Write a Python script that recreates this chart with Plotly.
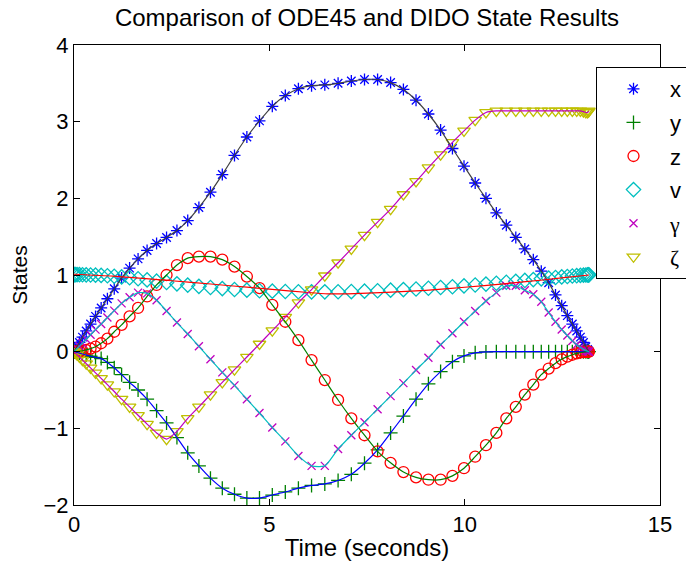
import plotly.graph_objects as go

# DIDO node times (seconds)
t_nodes = [0, 0.009, 0.035, 0.078, 0.139, 0.217, 0.312, 0.424, 0.551, 0.695,
           0.855, 1.030, 1.219, 1.423, 1.640, 1.871, 2.114, 2.369, 2.635, 2.911,
           3.197, 3.493, 3.796, 4.108, 4.425, 4.748, 5.076, 5.409, 5.744, 6.081,
           6.420, 6.760, 7.099, 7.436, 7.771, 8.104, 8.432, 8.755, 9.072, 9.384,
           9.687, 9.983, 10.269, 10.545, 10.811, 11.066, 11.309, 11.540, 11.757, 11.961,
           12.150, 12.325, 12.484, 12.628, 12.756, 12.868, 12.963, 13.041, 13.102, 13.145,
           13.171, 13.180]

x_vals = [0, 0.008, 0.03, 0.068, 0.12, 0.19, 0.27, 0.36, 0.46, 0.57,
          0.69, 0.82, 0.96, 1.09, 1.21, 1.32, 1.41, 1.49, 1.58, 1.71,
          1.88, 2.08, 2.31, 2.56, 2.80, 3.01, 3.20, 3.34, 3.43, 3.47,
          3.48, 3.50, 3.53, 3.55, 3.55, 3.51, 3.42, 3.28, 3.10, 2.89,
          2.65, 2.42, 2.20, 2.00, 1.81, 1.65, 1.49, 1.34, 1.20, 1.05,
          0.90, 0.74, 0.60, 0.47, 0.36, 0.27, 0.19, 0.12, 0.065, 0.03,
          0.01, 0]

y_vals = [0, -0.001, -0.004, -0.01, -0.018, -0.03, -0.045, -0.06, -0.075, -0.09,
          -0.14, -0.21, -0.30, -0.40, -0.50, -0.62, -0.77, -0.93, -1.12, -1.32,
          -1.49, -1.65, -1.78, -1.86, -1.91, -1.91, -1.87, -1.83, -1.78, -1.745,
          -1.725, -1.68, -1.60, -1.455, -1.28, -1.06, -0.84, -0.62, -0.42, -0.26,
          -0.13, -0.055, -0.015, -0.003, 0, 0, 0, 0, 0, 0,
          0, 0, 0, 0, 0, 0, 0, 0, 0, 0,
          0, 0]

z_vals = [0, 0, 0.001, 0.002, 0.005, 0.012, 0.022, 0.04, 0.065, 0.11,
          0.17, 0.26, 0.35, 0.46, 0.57, 0.72, 0.87, 1.00, 1.13, 1.22,
          1.24, 1.24, 1.20, 1.11, 0.98, 0.83, 0.61, 0.39, 0.15, -0.11,
          -0.37, -0.63, -0.87, -1.09, -1.30, -1.45, -1.57, -1.64, -1.67, -1.67,
          -1.62, -1.52, -1.37, -1.22, -1.06, -0.87, -0.72, -0.56, -0.43, -0.30,
          -0.22, -0.15, -0.10, -0.065, -0.04, -0.022, -0.011, -0.005, -0.002, -0.001,
          0, 0]

v_vals = [1.005, 1.005, 1.005, 1.005, 1.004, 1.003, 1.002, 1.0, 0.998, 0.995,
          0.99, 0.984, 0.975, 0.964, 0.951, 0.936, 0.92, 0.903, 0.885, 0.868,
          0.852, 0.837, 0.823, 0.811, 0.802, 0.795, 0.789, 0.785, 0.782, 0.78,
          0.78, 0.781, 0.784, 0.789, 0.795, 0.802, 0.81, 0.818, 0.827, 0.837,
          0.847, 0.858, 0.869, 0.881, 0.893, 0.905, 0.917, 0.929, 0.94, 0.95,
          0.959, 0.968, 0.975, 0.981, 0.987, 0.991, 0.995, 0.998, 1.0, 1.001,
          1.002, 1.002]

gam_vals = [0, 0.005, 0.018, 0.04, 0.072, 0.113, 0.162, 0.22, 0.287, 0.36,
            0.445, 0.535, 0.63, 0.71, 0.77, 0.76, 0.67, 0.53, 0.38, 0.23,
            0.07, -0.10, -0.27, -0.44, -0.62, -0.80, -0.99, -1.17, -1.36, -1.49,
            -1.49, -1.27, -1.09, -0.92, -0.75, -0.58, -0.41, -0.24, -0.08, 0.09,
            0.24, 0.39, 0.53, 0.66, 0.77, 0.86, 0.86, 0.80, 0.75, 0.65,
            0.51, 0.39, 0.29, 0.21, 0.14, 0.09, 0.055, 0.03, 0.013, 0.005,
            0.001, 0]

zeta_vals = [0, -0.005, -0.018, -0.039, -0.07, -0.11, -0.156, -0.212, -0.276, -0.348,
             -0.43, -0.52, -0.62, -0.72, -0.83, -0.945, -1.06, -1.14, -1.04, -0.87,
             -0.72, -0.56, -0.40, -0.235, -0.07, 0.10, 0.275, 0.45, 0.64, 0.81,
             0.99, 1.16, 1.34, 1.52, 1.69, 1.86, 2.05, 2.22, 2.40, 2.57,
             2.73, 2.88, 3.02, 3.12, 3.14, 3.14, 3.14, 3.14, 3.14, 3.14,
             3.14, 3.14, 3.14, 3.14, 3.14, 3.14, 3.14, 3.13, 3.12, 3.12,
             3.13, 3.14]

# ODE45 speed history (slightly different from DIDO nodes)
t_ode_v = [0, 1, 2, 3, 4, 5, 6, 6.5, 7, 8, 9, 10, 11, 12, 13, 13.18]
v_ode = [1.01, 0.985, 0.945, 0.905, 0.86, 0.815, 0.772, 0.755, 0.755, 0.773,
         0.80, 0.84, 0.885, 0.935, 0.99, 1.0]

serif = "Liberation Serif, Times New Roman, serif"
legend_names = ["x", "y", "z", "v",
                f'<span style="font-family:{serif}">γ</span>',
                f'<span style="font-family:{serif}">ζ</span>']

series = [x_vals, y_vals, z_vals, v_vals, gam_vals, zeta_vals]
marker_symbols = ["asterisk-open", "cross-thin-open", "circle-open",
                  "diamond-open", "x-thin-open", "triangle-down-open"]
marker_colors = ["#0000ff", "#008000", "#ff0000", "#00bfbf", "#bf00bf", "#bfbf00"]
marker_sizes = [10, 10, 11, 11, 8, 11]
line_colors = ["#404040", "#0000ff", "#008000", "#ff0000", "#00bfbf", "#bf00bf"]

fig = go.Figure()

for i, vals in enumerate(series):
    fig.add_trace(go.Scatter(
        x=t_nodes, y=vals, mode="markers", name=legend_names[i],
        legendgroup=f"g{i}",
        marker=dict(symbol=marker_symbols[i], size=marker_sizes[i],
                    color=marker_colors[i],
                    line=dict(color=marker_colors[i], width=1.3)),
        hoverinfo="skip"))

for i, vals in enumerate(series):
    if i == 3:
        xs, ys = t_ode_v, v_ode
    else:
        xs, ys = t_nodes, vals
    fig.add_trace(go.Scatter(
        x=xs, y=ys, mode="lines", showlegend=False,
        line=dict(color=line_colors[i], width=1.2, shape="spline", smoothing=0.6),
        hoverinfo="skip"))

font_main = "Liberation Sans, Arial, Helvetica, sans-serif"

fig.update_layout(
    width=686, height=568,
    margin=dict(l=74, r=26, t=45, b=63, autoexpand=False),
    plot_bgcolor="white", paper_bgcolor="white",
    font=dict(family=font_main, color="black", size=22),
    title=dict(text="Comparison of ODE45 and DIDO State Results",
               x=0.5, xref="paper", xanchor="center",
               y=1 - 18 / 568, yref="container", yanchor="middle",
               font=dict(size=24, family=font_main, color="black")),
    showlegend=True,
    legend=dict(x=(596 - 74) / 586, y=(505 - 67) / 460, xanchor="left", yanchor="top",
                bordercolor="black", borderwidth=1, bgcolor="white",
                font=dict(size=22, family=font_main, color="black"),
                tracegroupgap=2, itemwidth=63),
    xaxis=dict(range=[0, 15], tickvals=[0, 5, 10, 15], ticks="inside", ticklen=6,
               tickcolor="black", showline=True, linecolor="black", linewidth=1,
               mirror="ticks", showgrid=False, zeroline=False,
               tickfont=dict(size=22, family=font_main, color="black"),
               title=dict(text="Time (seconds)", standoff=2,
                          font=dict(size=24, family=font_main, color="black"))),
    yaxis=dict(range=[-2, 4], tickvals=[-2, -1, 0, 1, 2, 3, 4], ticks="inside", ticklen=6,
               tickcolor="black", showline=True, linecolor="black", linewidth=1,
               mirror="ticks", showgrid=False, zeroline=False,
               tickfont=dict(size=22, family=font_main, color="black"),
               title=dict(text="States", standoff=10,
                          font=dict(size=21, family=font_main, color="black"))),
)

fig.write_html("out.html")
